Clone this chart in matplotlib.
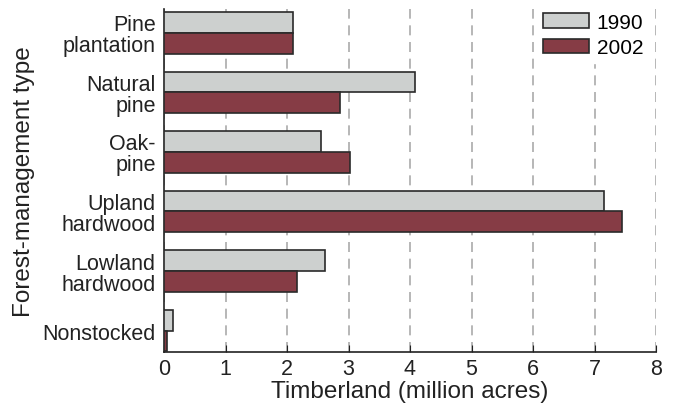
import matplotlib.pyplot as plt
import numpy as np

plt.rcParams['font.family'] = ['Liberation Sans', 'DejaVu Sans']

categories = ["Pine\nplantation", "Natural\npine", "Oak-\npine", "Upland\nhardwood",
              "Lowland\nhardwood", "Nonstocked"]
acres_1990 = [2.09, 4.08, 2.56, 7.15, 2.61, 0.15]
acres_2002 = [2.10, 2.86, 3.02, 7.44, 2.17, 0.05]

fig = plt.figure(figsize=(6.73, 4.14), dpi=100)
ax = fig.add_axes([164 / 673, 1 - 353 / 414, (656 - 164) / 673, (353 - 10) / 414])

y = np.arange(len(categories))
h = 0.35
ax.barh(y - h / 2, acres_1990, height=h, color="#cdd0cf", edgecolor="#2a2a2a",
        linewidth=1.2, label="1990", zorder=3)
ax.barh(y + h / 2, acres_2002, height=h, color="#863c45", edgecolor="#2a2a2a",
        linewidth=1.2, label="2002", zorder=3)

ax.set_xlim(0, 8)
ax.set_ylim(5.36, -0.4)
ax.set_xticks(range(9))
ax.set_yticks(y)
ax.set_yticklabels(categories, linespacing=1.0)
ax.tick_params(axis="both", labelsize=15.5, colors="#222222")
ax.tick_params(axis="x", direction="in", length=5, pad=4)
ax.tick_params(axis="y", length=0, pad=6)
ax.xaxis.grid(True, linestyle=(0, (6, 4)), color="#aaaaaa", linewidth=1.2, zorder=0)

for s in ["top", "right"]:
    ax.spines[s].set_visible(False)
for s in ["left", "bottom"]:
    ax.spines[s].set_linewidth(1.2)
    ax.spines[s].set_color("#222222")

ax.set_xlabel("Timberland (million acres)", fontsize=17.5, color="#222222", labelpad=1)
ax.set_ylabel("Forest-management type", fontsize=17.5, color="#222222", labelpad=5)

leg = ax.legend(loc="upper right", bbox_to_anchor=(1.0, 1.025), fontsize=15,
                frameon=True, fancybox=False, edgecolor="white", framealpha=1,
                handlelength=2.2, handleheight=0.7, handletextpad=0.4,
                labelspacing=0.3, borderaxespad=0.3, borderpad=0.3)
leg.set_zorder(5)

fig.savefig("out.png", dpi=100)
